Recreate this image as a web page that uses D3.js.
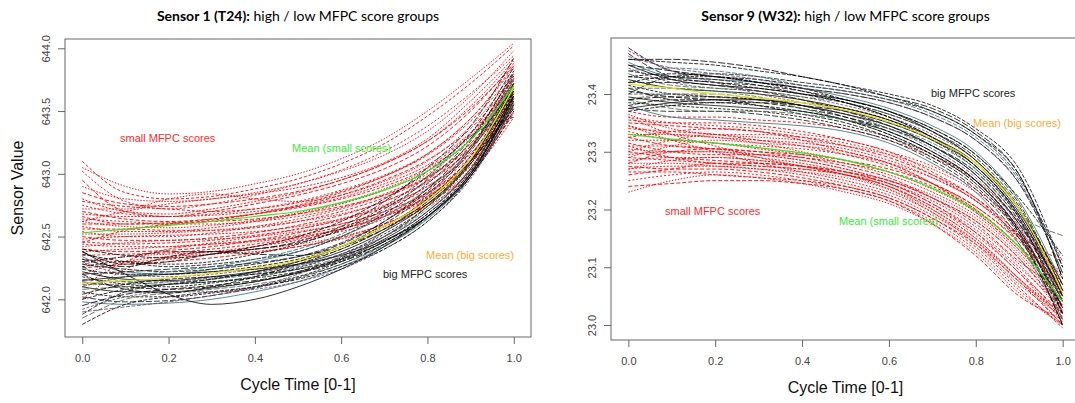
<!DOCTYPE html>
<html>
<head>
<meta charset="utf-8">
<style>
  body { margin: 0; background: #fff; }
  svg { display: block; }
</style>
</head>
<body>
<div id="container"></div>
<script src="https://cdn.jsdelivr.net/npm/d3@7"></script>
<script>

// cycle time grid the curves were read at
const xGrid = [0, 0.1, 0.2, 0.3, 0.4, 0.5, 0.6, 0.7, 0.8, 0.9, 1.0];

// ---- Sensor 1 (T24) ----
const s1Small = [
  [643.10, 642.85, 642.80, 642.82, 642.88, 642.96, 643.08, 643.24, 643.46, 643.72, 644.02],
  [643.02, 642.78, 642.72, 642.76, 642.83, 642.92, 643.03, 643.18, 643.38, 643.64, 643.94],
  [642.90, 642.80, 642.78, 642.80, 642.85, 642.92, 643.02, 643.15, 643.34, 643.62, 643.98],
  [642.85, 642.76, 642.74, 642.76, 642.80, 642.86, 642.95, 643.08, 643.26, 643.52, 643.86],
  [642.80, 642.70, 642.68, 642.72, 642.78, 642.85, 642.95, 643.08, 643.26, 643.54, 643.90],
  [642.78, 642.74, 642.72, 642.70, 642.72, 642.77, 642.86, 642.98, 643.15, 643.42, 643.80],
  [642.75, 642.68, 642.66, 642.68, 642.72, 642.78, 642.87, 642.99, 643.16, 643.44, 643.84],
  [642.72, 642.72, 642.80, 642.84, 642.80, 642.78, 642.83, 642.94, 643.10, 643.38, 643.78],
  [642.70, 642.64, 642.62, 642.64, 642.68, 642.74, 642.83, 642.95, 643.11, 643.36, 643.76],
  [642.68, 642.66, 642.66, 642.67, 642.70, 642.74, 642.81, 642.92, 643.07, 643.33, 643.72],
  [642.66, 642.60, 642.60, 642.63, 642.68, 642.75, 642.85, 642.98, 643.16, 643.44, 643.86],
  [642.64, 642.62, 642.60, 642.60, 642.62, 642.66, 642.73, 642.84, 643.00, 643.28, 643.74],
  [642.62, 642.58, 642.57, 642.59, 642.63, 642.69, 642.77, 642.88, 643.04, 643.30, 643.76],
  [642.60, 642.60, 642.61, 642.62, 642.64, 642.68, 642.74, 642.83, 642.97, 643.22, 643.66],
  [642.58, 642.54, 642.54, 642.57, 642.62, 642.68, 642.76, 642.87, 643.02, 643.28, 643.72],
  [642.56, 642.56, 642.55, 642.55, 642.57, 642.62, 642.70, 642.81, 642.97, 643.24, 643.70],
  [642.54, 642.50, 642.50, 642.53, 642.58, 642.64, 642.72, 642.83, 642.98, 643.24, 643.68],
  [642.52, 642.52, 642.53, 642.55, 642.58, 642.62, 642.68, 642.78, 642.93, 643.20, 643.66],
  [642.50, 642.47, 642.47, 642.49, 642.53, 642.59, 642.67, 642.78, 642.94, 643.20, 643.64],
  [642.48, 642.50, 642.51, 642.52, 642.54, 642.58, 642.64, 642.74, 642.90, 643.16, 643.62],
  [642.46, 642.44, 642.45, 642.47, 642.51, 642.56, 642.63, 642.73, 642.88, 643.14, 643.60],
  [642.44, 642.42, 642.42, 642.45, 642.50, 642.56, 642.64, 642.75, 642.90, 643.16, 643.62],
  [642.42, 642.45, 642.47, 642.48, 642.50, 642.54, 642.60, 642.70, 642.85, 643.10, 643.56],
  [642.40, 642.38, 642.39, 642.42, 642.47, 642.53, 642.60, 642.70, 642.85, 643.12, 643.58],
  [642.38, 642.40, 642.42, 642.44, 642.46, 642.50, 642.56, 642.66, 642.82, 643.10, 643.60],
  [642.35, 642.36, 642.37, 642.40, 642.44, 642.49, 642.56, 642.66, 642.81, 643.08, 643.54],
  [642.32, 642.30, 642.32, 642.36, 642.42, 642.48, 642.56, 642.67, 642.82, 643.08, 643.52],
  [642.28, 642.34, 642.36, 642.38, 642.40, 642.44, 642.50, 642.60, 642.76, 643.04, 643.50],
  [642.25, 642.28, 642.30, 642.33, 642.37, 642.42, 642.49, 642.60, 642.76, 643.02, 643.48],
  [642.20, 642.30, 642.34, 642.36, 642.38, 642.42, 642.48, 642.58, 642.74, 643.00, 643.45],
  [642.10, 642.30, 642.40, 642.44, 642.47, 642.51, 642.58, 642.68, 642.84, 643.10, 643.55],
  [642.00, 642.24, 642.33, 642.38, 642.42, 642.47, 642.54, 642.64, 642.80, 643.06, 643.50],
  [643.05, 642.90, 642.84, 642.86, 642.92, 643.00, 643.12, 643.28, 643.50, 643.76, 644.04],
  [642.95, 642.70, 642.66, 642.70, 642.76, 642.83, 642.92, 643.04, 643.22, 643.50, 643.88],
  [642.62, 642.70, 642.76, 642.80, 642.84, 642.89, 642.97, 643.09, 643.28, 643.58, 643.92],
  [642.45, 642.55, 642.60, 642.64, 642.68, 642.73, 642.80, 642.90, 643.05, 643.32, 643.70]
];
const s1Big = [
  [642.40, 642.35, 642.33, 642.36, 642.42, 642.50, 642.62, 642.80, 643.02, 643.32, 643.85],
  [642.38, 642.28, 642.30, 642.36, 642.40, 642.45, 642.55, 642.72, 642.95, 643.28, 643.80],
  [642.36, 642.30, 642.26, 642.28, 642.32, 642.38, 642.50, 642.68, 642.92, 643.26, 643.82],
  [642.34, 642.22, 642.20, 642.24, 642.30, 642.38, 642.50, 642.66, 642.88, 643.20, 643.75],
  [642.32, 642.26, 642.34, 642.38, 642.36, 642.35, 642.44, 642.62, 642.88, 643.22, 643.70],
  [642.30, 642.20, 642.18, 642.20, 642.24, 642.30, 642.40, 642.56, 642.78, 643.12, 643.72],
  [642.28, 642.24, 642.22, 642.24, 642.28, 642.34, 642.45, 642.62, 642.86, 643.20, 643.78],
  [642.26, 642.14, 642.12, 642.16, 642.22, 642.30, 642.42, 642.58, 642.80, 643.12, 643.66],
  [642.24, 642.20, 642.20, 642.22, 642.26, 642.32, 642.42, 642.58, 642.80, 643.14, 643.70],
  [642.22, 642.16, 642.15, 642.18, 642.22, 642.28, 642.38, 642.54, 642.76, 643.10, 643.68],
  [642.20, 642.22, 642.24, 642.26, 642.29, 642.34, 642.42, 642.56, 642.76, 643.08, 643.62],
  [642.18, 642.12, 642.10, 642.13, 642.18, 642.25, 642.36, 642.52, 642.74, 643.08, 643.66],
  [642.16, 642.14, 642.14, 642.16, 642.20, 642.26, 642.36, 642.50, 642.72, 643.04, 643.60],
  [642.14, 642.10, 642.08, 642.10, 642.14, 642.22, 642.33, 642.50, 642.74, 643.10, 643.72],
  [642.12, 642.12, 642.14, 642.17, 642.21, 642.27, 642.36, 642.50, 642.70, 643.02, 643.58],
  [642.10, 642.06, 642.06, 642.09, 642.14, 642.21, 642.32, 642.48, 642.70, 643.04, 643.64],
  [642.08, 642.10, 642.12, 642.14, 642.18, 642.24, 642.34, 642.50, 642.74, 643.10, 643.76],
  [642.06, 642.02, 642.02, 642.05, 642.10, 642.18, 642.30, 642.46, 642.68, 643.00, 643.60],
  [642.04, 642.12, 642.16, 642.18, 642.20, 642.24, 642.32, 642.46, 642.66, 642.98, 643.50],
  [642.02, 641.98, 641.99, 642.03, 642.09, 642.17, 642.28, 642.44, 642.66, 643.00, 643.62],
  [642.00, 642.08, 642.12, 642.14, 642.17, 642.22, 642.31, 642.46, 642.68, 643.02, 643.66],
  [641.98, 641.96, 641.97, 642.00, 642.06, 642.14, 642.26, 642.42, 642.64, 642.98, 643.56],
  [641.95, 642.04, 642.08, 642.11, 642.15, 642.21, 642.30, 642.44, 642.66, 643.00, 643.62],
  [641.92, 642.02, 642.06, 642.06, 642.08, 642.14, 642.24, 642.40, 642.62, 642.96, 643.54],
  [641.88, 642.06, 642.12, 642.16, 642.22, 642.30, 642.42, 642.60, 642.84, 643.18, 643.72],
  [641.85, 642.00, 642.05, 642.08, 642.12, 642.18, 642.28, 642.43, 642.65, 643.00, 643.60],
  [641.80, 641.96, 642.02, 642.06, 642.10, 642.16, 642.26, 642.40, 642.62, 642.98, 643.62],
  [642.38, 642.20, 642.04, 641.96, 642.00, 642.10, 642.24, 642.42, 642.66, 643.00, 643.58],
  [642.30, 642.34, 642.38, 642.38, 642.40, 642.46, 642.58, 642.78, 643.05, 643.38, 643.92],
  [642.26, 642.30, 642.28, 642.30, 642.36, 642.44, 642.56, 642.74, 642.98, 643.30, 643.45],
  [642.10, 642.18, 642.22, 642.26, 642.32, 642.40, 642.52, 642.70, 642.96, 643.30, 643.48],
  [642.20, 642.08, 642.05, 642.10, 642.18, 642.28, 642.40, 642.56, 642.78, 643.10, 643.52],
  [641.90, 641.94, 641.98, 642.03, 642.10, 642.20, 642.34, 642.54, 642.82, 643.20, 643.80],
  [642.15, 642.18, 642.20, 642.22, 642.24, 642.28, 642.35, 642.47, 642.66, 642.98, 643.55]
];
const s1MeanSmall = [642.53, 642.56, 642.59, 642.62, 642.66, 642.70, 642.77, 642.87, 643.02, 643.27, 643.70];
const s1MeanBig   = [642.13, 642.15, 642.17, 642.21, 642.25, 642.31, 642.42, 642.58, 642.79, 643.12, 643.69];
const s1YTicks = [642.0, 642.5, 643.0, 643.5, 644.0];

// ---- Sensor 9 (W32) ----
const s9Small = [
  [23.370, 23.360, 23.360, 23.355, 23.350, 23.340, 23.320, 23.290, 23.250, 23.180, 23.080],
  [23.360, 23.350, 23.345, 23.340, 23.330, 23.320, 23.300, 23.275, 23.235, 23.170, 23.070],
  [23.365, 23.340, 23.330, 23.325, 23.320, 23.310, 23.295, 23.270, 23.230, 23.165, 23.060],
  [23.350, 23.345, 23.340, 23.335, 23.325, 23.310, 23.290, 23.260, 23.220, 23.155, 23.055],
  [23.345, 23.330, 23.325, 23.320, 23.315, 23.305, 23.285, 23.255, 23.215, 23.150, 23.050],
  [23.340, 23.335, 23.330, 23.320, 23.310, 23.295, 23.275, 23.245, 23.205, 23.145, 23.060],
  [23.335, 23.320, 23.315, 23.310, 23.305, 23.295, 23.280, 23.255, 23.215, 23.150, 23.045],
  [23.330, 23.330, 23.325, 23.315, 23.300, 23.285, 23.265, 23.235, 23.195, 23.130, 23.040],
  [23.325, 23.310, 23.305, 23.300, 23.295, 23.285, 23.270, 23.245, 23.205, 23.140, 23.030],
  [23.320, 23.320, 23.315, 23.305, 23.295, 23.280, 23.260, 23.230, 23.190, 23.125, 23.035],
  [23.315, 23.300, 23.295, 23.295, 23.290, 23.280, 23.265, 23.240, 23.200, 23.135, 23.040],
  [23.310, 23.310, 23.305, 23.295, 23.285, 23.270, 23.250, 23.220, 23.180, 23.115, 23.020],
  [23.305, 23.300, 23.300, 23.295, 23.285, 23.270, 23.250, 23.225, 23.185, 23.120, 23.030],
  [23.300, 23.290, 23.285, 23.280, 23.275, 23.265, 23.250, 23.220, 23.180, 23.115, 23.025],
  [23.295, 23.300, 23.300, 23.290, 23.280, 23.265, 23.245, 23.215, 23.170, 23.105, 23.020],
  [23.290, 23.285, 23.280, 23.275, 23.270, 23.260, 23.240, 23.205, 23.160, 23.095, 23.010],
  [23.285, 23.290, 23.290, 23.285, 23.275, 23.260, 23.240, 23.205, 23.155, 23.090, 23.005],
  [23.280, 23.280, 23.275, 23.270, 23.265, 23.255, 23.235, 23.200, 23.150, 23.080, 23.000],
  [23.275, 23.270, 23.270, 23.265, 23.255, 23.240, 23.220, 23.185, 23.140, 23.075, 23.000],
  [23.270, 23.275, 23.275, 23.270, 23.260, 23.245, 23.225, 23.190, 23.145, 23.080, 23.010],
  [23.265, 23.265, 23.260, 23.255, 23.250, 23.240, 23.220, 23.185, 23.135, 23.065, 22.995],
  [23.250, 23.260, 23.265, 23.260, 23.250, 23.235, 23.215, 23.180, 23.130, 23.060, 23.000],
  [23.230, 23.250, 23.260, 23.255, 23.245, 23.230, 23.210, 23.175, 23.125, 23.055, 23.000],
  [23.240, 23.245, 23.250, 23.250, 23.245, 23.235, 23.215, 23.175, 23.120, 23.050, 23.010],
  [23.360, 23.330, 23.310, 23.290, 23.275, 23.260, 23.240, 23.200, 23.150, 23.080, 23.020],
  [23.355, 23.350, 23.350, 23.345, 23.335, 23.320, 23.300, 23.265, 23.220, 23.155, 23.110],
  [23.300, 23.320, 23.330, 23.330, 23.325, 23.315, 23.295, 23.260, 23.215, 23.150, 23.090],
  [23.290, 23.310, 23.320, 23.315, 23.310, 23.300, 23.280, 23.245, 23.200, 23.135, 23.070],
  [23.280, 23.300, 23.305, 23.300, 23.290, 23.275, 23.255, 23.220, 23.175, 23.110, 23.060],
  [23.345, 23.320, 23.300, 23.280, 23.265, 23.250, 23.230, 23.195, 23.145, 23.075, 23.020],
  [23.325, 23.335, 23.340, 23.335, 23.320, 23.300, 23.280, 23.245, 23.195, 23.130, 23.050],
  [23.310, 23.290, 23.280, 23.275, 23.270, 23.260, 23.245, 23.210, 23.165, 23.100, 23.030],
  [23.270, 23.285, 23.290, 23.285, 23.275, 23.260, 23.235, 23.195, 23.140, 23.070, 23.015],
  [23.260, 23.270, 23.280, 23.280, 23.275, 23.265, 23.245, 23.210, 23.160, 23.090, 23.020]
];
const s9Big = [
  [23.480, 23.440, 23.430, 23.425, 23.415, 23.405, 23.390, 23.370, 23.330, 23.260, 23.080],
  [23.470, 23.430, 23.420, 23.415, 23.405, 23.390, 23.370, 23.340, 23.295, 23.210, 23.060],
  [23.460, 23.455, 23.450, 23.440, 23.430, 23.415, 23.400, 23.380, 23.340, 23.270, 23.100],
  [23.455, 23.430, 23.425, 23.420, 23.410, 23.395, 23.375, 23.345, 23.300, 23.215, 23.070],
  [23.450, 23.440, 23.430, 23.420, 23.410, 23.400, 23.385, 23.360, 23.320, 23.245, 23.090],
  [23.445, 23.420, 23.410, 23.405, 23.395, 23.380, 23.360, 23.330, 23.285, 23.200, 23.050],
  [23.440, 23.430, 23.425, 23.415, 23.400, 23.385, 23.365, 23.335, 23.290, 23.205, 23.060],
  [23.435, 23.415, 23.410, 23.405, 23.395, 23.385, 23.365, 23.335, 23.285, 23.200, 23.040],
  [23.430, 23.425, 23.420, 23.410, 23.400, 23.385, 23.360, 23.325, 23.275, 23.190, 23.050],
  [23.425, 23.410, 23.405, 23.400, 23.390, 23.375, 23.355, 23.325, 23.280, 23.195, 23.060],
  [23.420, 23.420, 23.415, 23.405, 23.390, 23.370, 23.345, 23.310, 23.260, 23.175, 23.040],
  [23.415, 23.400, 23.395, 23.390, 23.385, 23.375, 23.355, 23.320, 23.270, 23.185, 23.050],
  [23.410, 23.410, 23.405, 23.395, 23.380, 23.365, 23.345, 23.315, 23.270, 23.185, 23.030],
  [23.405, 23.395, 23.390, 23.385, 23.375, 23.360, 23.340, 23.310, 23.265, 23.180, 23.040],
  [23.400, 23.400, 23.395, 23.390, 23.380, 23.365, 23.340, 23.305, 23.255, 23.170, 23.020],
  [23.395, 23.385, 23.380, 23.375, 23.370, 23.355, 23.335, 23.300, 23.250, 23.165, 23.030],
  [23.390, 23.400, 23.400, 23.390, 23.375, 23.355, 23.330, 23.295, 23.245, 23.160, 23.010],
  [23.385, 23.380, 23.375, 23.370, 23.360, 23.345, 23.325, 23.295, 23.250, 23.165, 23.020],
  [23.380, 23.390, 23.390, 23.380, 23.365, 23.350, 23.325, 23.290, 23.240, 23.155, 23.000],
  [23.375, 23.370, 23.370, 23.365, 23.355, 23.340, 23.320, 23.285, 23.235, 23.150, 23.020],
  [23.370, 23.380, 23.385, 23.380, 23.370, 23.355, 23.330, 23.295, 23.245, 23.160, 23.030],
  [23.380, 23.360, 23.355, 23.350, 23.345, 23.335, 23.315, 23.280, 23.230, 23.140, 23.010],
  [23.460, 23.460, 23.455, 23.445, 23.430, 23.415, 23.395, 23.375, 23.335, 23.260, 23.080],
  [23.475, 23.440, 23.420, 23.400, 23.385, 23.370, 23.350, 23.320, 23.275, 23.190, 23.040],
  [23.400, 23.430, 23.435, 23.430, 23.420, 23.410, 23.395, 23.370, 23.330, 23.255, 23.100],
  [23.390, 23.375, 23.370, 23.370, 23.365, 23.355, 23.340, 23.310, 23.265, 23.190, 23.155],
  [23.430, 23.435, 23.430, 23.420, 23.410, 23.390, 23.370, 23.340, 23.295, 23.220, 23.120],
  [23.450, 23.425, 23.415, 23.410, 23.400, 23.390, 23.370, 23.335, 23.285, 23.200, 23.070],
  [23.410, 23.390, 23.385, 23.385, 23.380, 23.370, 23.350, 23.320, 23.275, 23.190, 23.050],
  [23.420, 23.430, 23.430, 23.420, 23.405, 23.385, 23.360, 23.325, 23.275, 23.185, 23.020],
  [23.440, 23.445, 23.440, 23.430, 23.415, 23.405, 23.390, 23.365, 23.325, 23.250, 23.090],
  [23.390, 23.395, 23.395, 23.390, 23.380, 23.360, 23.335, 23.300, 23.250, 23.160, 23.000],
  [23.465, 23.445, 23.435, 23.425, 23.410, 23.400, 23.385, 23.360, 23.320, 23.245, 23.110],
  [23.375, 23.385, 23.390, 23.390, 23.380, 23.365, 23.345, 23.310, 23.260, 23.175, 23.060]
];
const s9MeanSmall = [23.330, 23.322, 23.315, 23.307, 23.298, 23.285, 23.265, 23.237, 23.198, 23.135, 23.040];
const s9MeanBig   = [23.417, 23.410, 23.400, 23.393, 23.385, 23.372, 23.352, 23.322, 23.280, 23.200, 23.056];
const s9YTicks = [23.0, 23.1, 23.2, 23.3, 23.4];

const xTicks = [0, 0.2, 0.4, 0.6, 0.8, 1.0];

const panels = [
  { bold: "Sensor 1 (T24):", rest: " high / low MFPC score groups",
    small: s1Small, big: s1Big, meanSmall: s1MeanSmall, meanBig: s1MeanBig,
    yTicks: s1YTicks, yDomain: [641.70, 644.074],
    box: { x0: 65, x1: 531, y0: 39, y1: 337 }, yLabel: "Sensor Value",
    notes: [
      { text: "small MFPC scores",   x: 120, y: 138, color: "#ff2a2a" },
      { text: "Mean (small scores)", x: 292, y: 148, color: "#33ee33" },
      { text: "Mean (big scores)",   x: 426, y: 255, color: "#ffaa33" },
      { text: "big MFPC scores",     x: 383, y: 274, color: "#222" }
    ] },
  { bold: "Sensor 9 (W32):", rest: " high / low MFPC score groups",
    small: s9Small, big: s9Big, meanSmall: s9MeanSmall, meanBig: s9MeanBig,
    yTicks: s9YTicks, yDomain: [22.974, 23.497],
    box: { x0: 611, x1: 1080, y0: 38, y1: 340 }, yLabel: null,
    notes: [
      { text: "big MFPC scores",     x: 931, y: 93,  color: "#222" },
      { text: "Mean (big scores)",   x: 973, y: 123, color: "#ffaa33" },
      { text: "small MFPC scores",   x: 665, y: 211, color: "#ff2a2a" },
      { text: "Mean (small scores)", x: 839, y: 221, color: "#33ee33" }
    ] }
];

const W = 1075, H = 403;
const svg = d3.select("#container").append("svg")
  .attr("width", W).attr("height", H)
  .style("font-family", "'Liberation Sans', Arial, sans-serif");

const redDash = ["3,2", "2,2", "1.5,1.5", "4,2", "2,1.5"];
const bigCols = ["#000", "#111", "#000", "#2b6f74", "#000", "#6b3a6b", "#111", "#3c6b3c", "#000"];
const bigDash = ["5,1.5", "6,2", "4,1.5", "none", "7,2", "3,1.5"];

panels.forEach((p, pi) => {
  const b = p.box;
  const x = d3.scaleLinear().domain([-0.04, 1.04]).range([b.x0, b.x1]);
  const y = d3.scaleLinear().domain(p.yDomain).range([b.y1, b.y0]);
  const g = svg.append("g");

  const clipId = "clip" + pi;
  g.append("clipPath").attr("id", clipId).append("rect")
    .attr("x", b.x0).attr("y", b.y0).attr("width", b.x1 - b.x0).attr("height", b.y1 - b.y0);

  const line = d3.line()
    .x((d, i) => x(xGrid[i]))
    .y(d => y(d))
    .curve(d3.curveMonotoneX);

  const plot = g.append("g").attr("clip-path", `url(#${clipId})`);

  plot.selectAll("path.small").data(p.small).enter().append("path")
    .attr("class", "small")
    .attr("d", line)
    .attr("fill", "none")
    .attr("stroke", "#ff0000")
    .attr("stroke-width", 1)
    .attr("stroke-dasharray", (d, i) => redDash[i % redDash.length])
    .attr("opacity", 0.9);

  plot.selectAll("path.big").data(p.big).enter().append("path")
    .attr("class", "big")
    .attr("d", line)
    .attr("fill", "none")
    .attr("stroke", (d, i) => bigCols[i % bigCols.length])
    .attr("stroke-width", 0.95)
    .attr("stroke-dasharray", (d, i) => bigDash[i % bigDash.length])
    .attr("opacity", 0.85);

  plot.append("path").attr("d", line(p.meanSmall))
    .attr("fill", "none").attr("stroke", "#22ee22").attr("stroke-width", 1.2);
  plot.append("path").attr("d", line(p.meanBig))
    .attr("fill", "none").attr("stroke", "#e6e600").attr("stroke-width", 1.2);

  // box
  g.append("rect")
    .attr("x", b.x0).attr("y", b.y0).attr("width", b.x1 - b.x0).attr("height", b.y1 - b.y0)
    .attr("fill", "none").attr("stroke", "#666").attr("stroke-width", 1);

  // axes
  const xa = g.append("g").attr("transform", `translate(0,${b.y1})`)
    .call(d3.axisBottom(x).tickValues(xTicks).tickFormat(d3.format(".1f")).tickSize(7));
  xa.select(".domain").remove();
  xa.selectAll("line").attr("stroke", "#666");
  xa.selectAll("text").attr("y", 21).attr("dy", "0.35em")
    .attr("fill", "#444").style("font-size", "11px");

  const ya = g.append("g").attr("transform", `translate(${b.x0},0)`)
    .call(d3.axisLeft(y).tickValues(p.yTicks).tickFormat(d3.format(".1f")).tickSize(7));
  ya.select(".domain").remove();
  ya.selectAll("line").attr("stroke", "#666");
  ya.selectAll("text").attr("x", null).attr("dy", "0.35em")
    .attr("transform", "translate(-19,0) rotate(-90)")
    .attr("text-anchor", "middle")
    .attr("fill", "#444").style("font-size", "11px");

  // titles and axis labels
  const cx = (b.x0 + Math.min(b.x1, 1080)) / 2;
  const t = g.append("text").attr("x", cx).attr("y", 21)
    .attr("text-anchor", "middle")
    .style("font-family", "Lato, 'Open Sans', sans-serif").style("font-size", "14px");
  t.append("tspan").attr("font-weight", "bold").text(p.bold);
  t.append("tspan").text(p.rest);

  g.append("text").attr("x", cx).attr("y", b.y1 + 53)
    .attr("text-anchor", "middle").style("font-size", "16px").attr("fill", "#111")
    .text("Cycle Time [0-1]");

  if (p.yLabel) {
    g.append("text")
      .attr("transform", `translate(23,${(b.y0 + b.y1) / 2}) rotate(-90)`)
      .attr("text-anchor", "middle").style("font-size", "16px").attr("fill", "#111")
      .text(p.yLabel);
  }

  g.selectAll("text.note").data(p.notes).enter().append("text")
    .attr("class", "note")
    .attr("x", d => d.x).attr("y", d => d.y).attr("dy", "0.35em")
    .attr("fill", d => d.color)
    .style("font-size", "11px")
    .text(d => d.text);
});

</script>
</body>
</html>
